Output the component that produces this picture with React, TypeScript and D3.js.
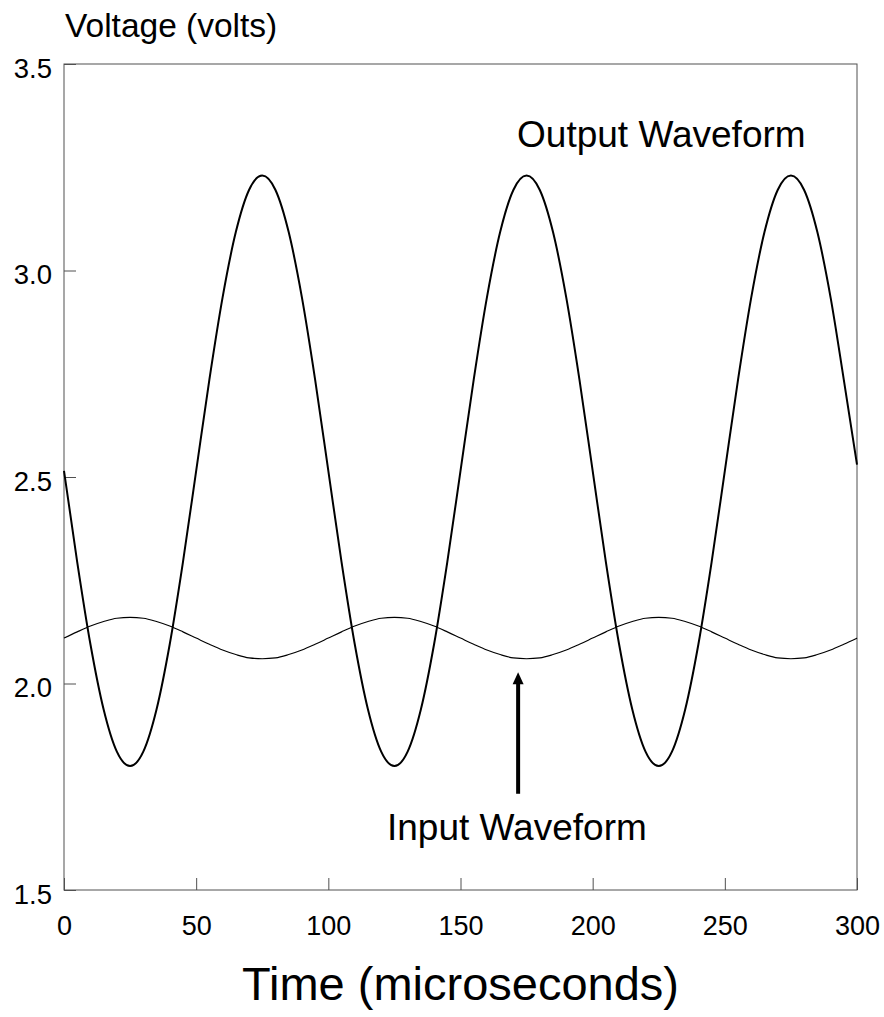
import React, { useRef, useEffect } from 'react';
import * as d3 from 'd3';

// time in microseconds, sampled every 5 us
const timeUs = [
  0, 5, 10, 15, 20, 25, 30, 35, 40, 45, 50, 55, 60, 65, 70, 75, 80, 85, 90, 95,
  100, 105, 110, 115, 120, 125, 130, 135, 140, 145, 150, 155, 160, 165, 170, 175, 180, 185, 190, 195,
  200, 205, 210, 215, 220, 225, 230, 235, 240, 245, 250, 255, 260, 265, 270, 275, 280, 285, 290, 295,
  300,
];

// output waveform (volts)
const outputVolts = [
  2.515, 2.294, 2.095, 1.937, 1.835, 1.8, 1.835, 1.937, 2.095, 2.294, 2.515, 2.736, 2.935, 3.093, 3.195, 3.23, 3.195, 3.093, 2.935, 2.736,
  2.515, 2.294, 2.095, 1.937, 1.835, 1.8, 1.835, 1.937, 2.095, 2.294, 2.515, 2.736, 2.935, 3.093, 3.195, 3.23, 3.195, 3.093, 2.935, 2.736,
  2.515, 2.294, 2.095, 1.937, 1.835, 1.8, 1.835, 1.937, 2.095, 2.294, 2.515, 2.736, 2.935, 3.093, 3.195, 3.23, 3.195, 3.093, 2.935, 2.736,
  2.53,
];

// input waveform (volts)
const inputVolts = [
  2.11, 2.125, 2.139, 2.15, 2.158, 2.16, 2.158, 2.15, 2.139, 2.125, 2.11, 2.095, 2.081, 2.07, 2.062, 2.06, 2.062, 2.07, 2.081, 2.095,
  2.11, 2.125, 2.139, 2.15, 2.158, 2.16, 2.158, 2.15, 2.139, 2.125, 2.11, 2.095, 2.081, 2.07, 2.062, 2.06, 2.062, 2.07, 2.081, 2.095,
  2.11, 2.125, 2.139, 2.15, 2.158, 2.16, 2.158, 2.15, 2.139, 2.125, 2.11, 2.095, 2.081, 2.07, 2.062, 2.06, 2.062, 2.07, 2.081, 2.095,
  2.11,
];

const xTicks = [0, 50, 100, 150, 200, 250, 300];
const yTicks = [1.5, 2.0, 2.5, 3.0, 3.5];

const FONT = '"Liberation Sans", Arial, Helvetica, sans-serif';
const AXIS_COLOR = '#505050';

const App: React.FC = () => {
  const ref = useRef<SVGSVGElement>(null);
  const width = 884;
  const height = 1017;
  const margins = { left: 64, right: 27, top: 64, bottom: 127 };

  useEffect(() => {
    if (!ref.current) return;
    const svg = d3.select(ref.current);
    svg.selectAll('*').remove();

    const x = d3.scaleLinear().domain([0, 300]).range([margins.left, width - margins.right]);
    const y = d3.scaleLinear().domain([1.5, 3.5]).range([height - margins.bottom, margins.top]);

    // frame
    svg
      .append('rect')
      .attr('x', x(0))
      .attr('y', y(3.5))
      .attr('width', x(300) - x(0))
      .attr('height', y(1.5) - y(3.5))
      .attr('fill', 'none')
      .attr('stroke', AXIS_COLOR)
      .attr('stroke-width', 1);

    // y axis, ticks pointing in
    const yAxis = svg
      .append('g')
      .attr('transform', 'translate(' + x(0) + ',0)')
      .call(
        d3
          .axisLeft(y)
          .tickValues(yTicks)
          .tickFormat(d3.format('.1f'))
          .tickSizeInner(-12)
          .tickSizeOuter(0)
          .tickPadding(12)
      );
    yAxis.select('.domain').remove();
    yAxis.selectAll('line').attr('stroke', AXIS_COLOR);
    yAxis
      .selectAll('text')
      .attr('dy', '0.48em')
      .attr('fill', '#000')
      .style('font-family', FONT)
      .style('font-size', '27.5px');

    // x axis
    const xAxis = svg
      .append('g')
      .attr('transform', 'translate(0,' + y(1.5) + ')')
      .call(
        d3
          .axisBottom(x)
          .tickValues(xTicks)
          .tickFormat(d3.format('d'))
          .tickSizeInner(-12)
          .tickSizeOuter(0)
          .tickPadding(26)
      );
    xAxis.select('.domain').remove();
    xAxis.selectAll('line').attr('stroke', AXIS_COLOR);
    xAxis
      .selectAll('text')
      .attr('fill', '#000')
      .style('font-family', FONT)
      .style('font-size', '27px');

    // waveforms
    const line = (vals: number[]) =>
      d3
        .line<number>()
        .x((_, i) => x(timeUs[i]))
        .y((d) => y(d))
        .curve(d3.curveMonotoneX)(vals);

    svg
      .append('path')
      .attr('d', line(inputVolts))
      .attr('fill', 'none')
      .attr('stroke', '#000')
      .attr('stroke-width', 1.1);

    svg
      .append('path')
      .attr('d', line(outputVolts))
      .attr('fill', 'none')
      .attr('stroke', '#000')
      .attr('stroke-width', 2);

    // arrow pointing at the input waveform
    const arrowT = 171.8;
    svg
      .append('line')
      .attr('x1', x(arrowT))
      .attr('x2', x(arrowT))
      .attr('y1', y(1.733))
      .attr('y2', y(2.0))
      .attr('stroke', '#000')
      .attr('stroke-width', 4);
    svg
      .append('path')
      .attr(
        'd',
        'M' + x(arrowT) + ',' + y(2.027) +
          'L' + (x(arrowT) - 5.5) + ',' + (y(2.027) + 12) +
          'L' + (x(arrowT) + 5.5) + ',' + (y(2.027) + 12) + 'Z'
      )
      .attr('fill', '#000');

    const label = (t: number, v: number, text: string, size: number, anchor = 'start') =>
      svg
        .append('text')
        .attr('x', x(t))
        .attr('y', y(v))
        .attr('text-anchor', anchor)
        .style('font-family', FONT)
        .style('font-size', size + 'px')
        .attr('fill', '#000')
        .text(text);

    label(171.4, 3.3, 'Output Waveform', 37);
    label(122.2, 1.62, 'Input Waveform', 37);

    // axis titles
    svg
      .append('text')
      .attr('x', 65)
      .attr('y', 37)
      .style('font-family', FONT)
      .style('font-size', '33.5px')
      .attr('fill', '#000')
      .text('Voltage (volts)');

    svg
      .append('text')
      .attr('x', (x(0) + x(300)) / 2)
      .attr('y', 1000)
      .attr('text-anchor', 'middle')
      .style('font-family', FONT)
      .style('font-size', '47px')
      .attr('fill', '#000')
      .text('Time (microseconds)');
  }, []);

  return (
    <svg
      ref={ref}
      width={width}
      height={height}
      style={{ position: 'absolute', left: 0, top: 0, background: '#fff' }}
    />
  );
};

export default App;
